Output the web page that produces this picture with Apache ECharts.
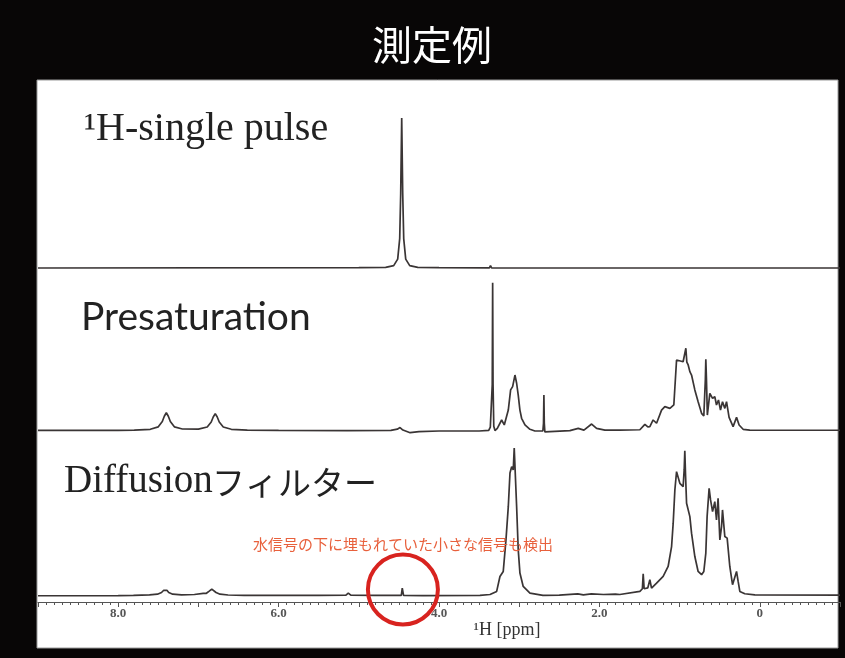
<!DOCTYPE html>
<html>
<head>
<meta charset="utf-8">
<style>
html,body{margin:0;padding:0;background:#080606;}
#chart{width:845px;height:658px;}
</style>
<script src="https://cdn.jsdelivr.net/npm/echarts@6/dist/echarts.min.js"></script>
</head>
<body>
<div id="chart"></div>
<script>
// ---------- data ----------
const titleText = '測定例';
const spectrumNames = ['¹H-single pulse', 'Presaturation', 'Diffusion', 'フィルター'];
const axisName = '¹H [ppm]';
const annotationText = '水信号の下に埋もれていた小さな信号も検出';
const labeledTicks = [8, 6, 4, 2, 0];
const tickLabels = ['8.0', '6.0', '4.0', '2.0', '0'];
const annotationPpm = 4.45;

// 1H single pulse
const pulsePpm = [9.0, 5.0, 4.665, 4.565, 4.515, 4.49, 4.4775, 4.465, 4.4525, 4.44, 4.415, 4.365, 4.265, 4.0, 3.372, 3.358, 3.344, -1.0];
const pulseInt = [0, 0.002, 0.004, 0.015, 0.057, 0.19, 0.48, 0.968, 0.48, 0.19, 0.057, 0.015, 0.004, 0.002, 0.001, 0.015, 0.001, 0];

// Presaturation
const presatPpm = [9.0, 8.0, 7.80, 7.60, 7.50, 7.45, 7.425, 7.40, 7.375, 7.35, 7.30, 7.20, 7.00, 6.89, 6.84, 6.815, 6.79, 6.765, 6.74, 6.69, 6.59, 6.39, 6.0,
  5.14, 5.13, 5.12, 4.60, 4.52, 4.486, 4.45, 4.36, 4.25, 4.0, 3.50, 3.38, 3.36, 3.345, 3.336, 3.331, 3.326, 3.317, 3.302, 3.273, 3.219, 3.186,
  3.136, 3.107, 3.082, 3.053, 3.040, 3.032, 3.012, 2.991, 2.970, 2.928, 2.866, 2.804, 2.705, 2.697, 2.692, 2.687, 2.680, 2.66,
  2.368, 2.264, 2.193, 2.097, 2.035, 1.931, 1.745, 1.495, 1.433, 1.396, 1.371, 1.330, 1.287, 1.225, 1.184, 1.121, 1.072, 1.038, 1.018,
  0.956, 0.935, 0.922, 0.910, 0.893, 0.872, 0.851, 0.810, 0.769, 0.726, 0.698, 0.679, 0.673, 0.665, 0.654, 0.623, 0.589, 0.561, 0.540,
  0.515, 0.490, 0.465, 0.436, 0.415, 0.383, 0.333, 0.290, 0.258, 0.208, 0.125, -1.0];
const presatInt = [0.004, 0.004, 0.006, 0.011, 0.027, 0.061, 0.095, 0.118, 0.095, 0.061, 0.027, 0.013, 0.012, 0.026, 0.058, 0.09, 0.112, 0.09, 0.058, 0.026, 0.011, 0.006, 0.004,
  0.003, 0.008, 0.003, 0.004, 0.012, 0.022, 0.006, -0.011, -0.004, 0, 0, 0.004, 0.025, 0.03, 0.3, 0.957, 0.3, 0.03, 0.003, 0.017, 0.071, 0.039,
  0.135, 0.265, 0.286, 0.361, 0.372, 0.308, 0.232, 0.135, 0.082, 0.039, 0.011, 0, 0, 0.05, 0.232, 0.05, -0.006, 0,
  0.002, 0.017, 0.006, 0.045, 0.017, 0.006, 0.006, 0.008, 0.043, 0.026, 0.028, 0.071, 0.050, 0.135, 0.157, 0.146, 0.168, 0.458, 0.463,
  0.447, 0.445, 0.534, 0.445, 0.426, 0.383, 0.361, 0.265, 0.189, 0.114, 0.097, 0.33, 0.463, 0.33, 0.103, 0.243, 0.211, 0.221, 0.168,
  0.200, 0.135, 0.189, 0.146, 0.189, 0.088, 0.028, 0.088, 0.039, 0.011, 0.006, 0.005];

// Diffusion filter
const diffPpm = [9.0, 8.0, 7.81, 7.61, 7.51, 7.46, 7.435, 7.414, 7.39, 7.37, 7.32, 7.21, 7.05, 6.94, 6.90, 6.865, 6.845, 6.833, 6.81, 6.78, 6.73, 6.63, 6.43,
  5.5, 5.16, 5.131, 5.10, 4.8, 4.47, 4.458, 4.448, 4.442, 4.2, 3.489, 3.364, 3.281, 3.240, 3.199, 3.165, 3.136, 3.115, 3.094, 3.074, 3.062, 3.053,
  3.032, 3.012, 2.991, 2.950, 2.866, 2.704, 2.50, 2.27, 2.20, 2.10, 1.95, 1.80, 1.745, 1.495, 1.464, 1.454, 1.442, 1.433, 1.396, 1.371, 1.350,
  1.287, 1.205, 1.143, 1.100, 1.080, 1.059, 1.038, 1.018, 0.997, 0.956, 0.943, 0.935, 0.926, 0.913, 0.872, 0.851, 0.810, 0.769, 0.726, 0.698,
  0.673, 0.657, 0.632, 0.614, 0.589, 0.561, 0.540, 0.520, 0.498, 0.477, 0.465, 0.436, 0.407, 0.374, 0.340, 0.320, 0.290, 0.270, 0.249, 0.187, 0.062, -1.0];
const diffInt = [0, 0.001, 0.003, 0.006, 0.01, 0.021, 0.034, 0.043, 0.034, 0.021, 0.01, 0.006, 0.008, 0.015, 0.016, 0.03, 0.039, 0.043, 0.036, 0.021, 0.01, 0.005, 0.003,
  0.003, 0.004, 0.017, 0.004, 0.003, 0.003, 0.049, 0.046, 0.003, 0.001, 0.002, 0.008, 0.028, 0.124, 0.156, 0.359, 0.572, 0.788, 0.829, 0.808, 0.949, 0.947,
  0.572, 0.295, 0.146, 0.060, 0.017, 0.003, 0.004, 0.012, 0.006, 0.012, 0.008, 0.01, 0.008, 0.028, 0.045, 0.141, 0.045, 0.038, 0.051, 0.103, 0.049,
  0.081, 0.124, 0.188, 0.316, 0.466, 0.679, 0.797, 0.787, 0.722, 0.701, 0.808, 0.931, 0.776, 0.594, 0.508, 0.402, 0.252, 0.156, 0.135, 0.156,
  0.274, 0.508, 0.690, 0.615, 0.540, 0.604, 0.487, 0.626, 0.359, 0.444, 0.551, 0.380, 0.370, 0.188, 0.071, 0.081, 0.156, 0.092, 0.028, 0.013, 0.006, 0.004];

// ---------- chart ----------
const chart = echarts.init(document.getElementById('chart'), null, {renderer: 'canvas'});
const pairs = (xs, ys) => xs.map((x, i) => [x, ys[i]]);
const lineColor = '#3a3535';
const serifFont = "'Liberation Serif', 'Noto Sans CJK JP', serif";

function xAxisBase(gi, show) {
  return {
    gridIndex: gi, type: 'value', min: -1, max: 9, interval: 1, inverse: true, show: show,
    axisLine: {show: true, onZero: false, lineStyle: {color: '#555', width: 1.2}},
    axisTick: {show: true, length: 5, lineStyle: {color: '#555', width: 1}},
    minorTick: {show: true, splitNumber: 10, length: 3, lineStyle: {color: '#555', width: 1}},
    splitLine: {show: false},
    axisLabel: {
      margin: 5, color: '#555', fontFamily: serifFont, fontSize: 13, fontWeight: 'bold',
      formatter: v => { const k = labeledTicks.indexOf(Math.round(v * 10) / 10); return k >= 0 ? tickLabels[k] : ''; }
    }
  };
}
function seriesOf(gi, xs, ys) {
  return {
    type: 'line', xAxisIndex: gi, yAxisIndex: gi, data: pairs(xs, ys),
    showSymbol: false, symbol: 'none', smooth: false, clip: false,
    lineStyle: {color: lineColor, width: 1.7}, z: 5
  };
}

const option = {
  backgroundColor: '#080606',
  animation: false,
  grid: [
    {left: 38, right: 5, top: 113, height: 155},
    {left: 38, right: 5, top: 276, height: 155},
    {left: 38, right: 5, top: 440, height: 162}
  ],
  xAxis: [xAxisBase(0, false), xAxisBase(1, false), xAxisBase(2, true)],
  yAxis: [
    {gridIndex: 0, type: 'value', min: 0, max: 1, show: false},
    {gridIndex: 1, type: 'value', min: 0, max: 1, show: false},
    {gridIndex: 2, type: 'value', min: -0.04, max: 1, show: false}
  ],
  series: [
    seriesOf(0, pulsePpm, pulseInt),
    seriesOf(1, presatPpm, presatInt),
    seriesOf(2, diffPpm, diffInt)
  ]
};
chart.setOption(option);

const c = chart.convertToPixel({gridIndex: 2}, [annotationPpm, 0.04]);
chart.setOption({
  graphic: [
    {type: 'rect', z: -10, silent: true, shape: {x: 37, y: 80, width: 801, height: 568},
      style: {fill: '#ffffff', stroke: '#9a9a9a', lineWidth: 1}},
    {type: 'text', z: 10, x: 432, y: 45, style: {text: titleText, fill: '#ffffff',
      font: "normal 40px 'Noto Sans CJK JP', sans-serif", align: 'center', verticalAlign: 'middle'}},
    {type: 'text', z: 10, x: 84, y: 129, style: {text: spectrumNames[0], fill: '#222',
      font: "normal 40px " + serifFont, align: 'left', verticalAlign: 'middle'}},
    {type: 'text', z: 10, x: 81, y: 317, style: {text: spectrumNames[1], fill: '#222',
      font: "normal 39px Lato, 'Noto Sans', sans-serif", align: 'left', verticalAlign: 'middle'}},
    {type: 'text', z: 10, x: 64, y: 482, style: {text: spectrumNames[2], fill: '#222',
      font: "normal 39px " + serifFont, align: 'left', verticalAlign: 'middle'}},
    {type: 'text', z: 10, x: 212, y: 482, style: {text: spectrumNames[3], fill: '#222',
      font: "normal 33px 'Noto Sans CJK JP', sans-serif", align: 'left', verticalAlign: 'middle'}},
    {type: 'text', z: 10, x: 507, y: 630, style: {text: axisName, fill: '#333',
      font: "normal 18px " + serifFont, align: 'center', verticalAlign: 'middle'}},
    {type: 'circle', z: 10, shape: {cx: c[0], cy: c[1], r: 35},
      style: {fill: 'none', stroke: '#d8231f', lineWidth: 4}},
    {type: 'text', z: 10, x: c[0], y: 544, style: {text: annotationText, fill: '#e8603c',
      font: "normal 15px 'Noto Sans CJK JP', sans-serif", align: 'center', verticalAlign: 'middle'}}
  ]
});
</script>
</body>
</html>
